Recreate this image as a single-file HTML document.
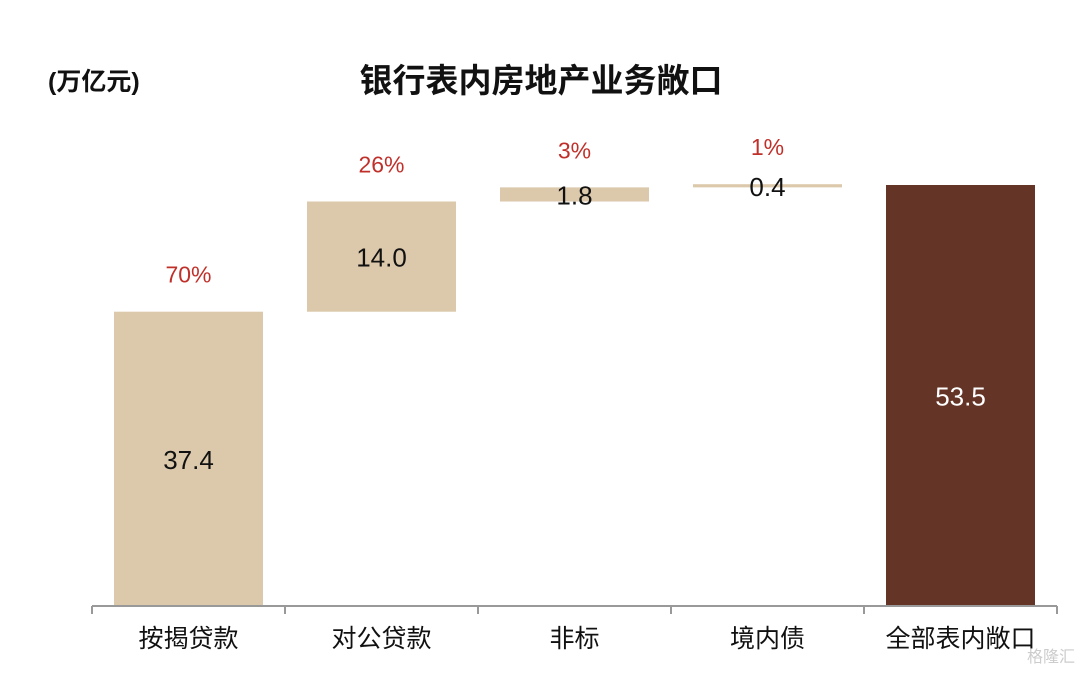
<!DOCTYPE html>
<html><head><meta charset="utf-8"><style>
body{margin:0;background:#fff;width:1080px;height:670px;overflow:hidden}
svg text{font-family:"Liberation Sans","Noto Sans CJK SC",sans-serif}
</style></head><body>
<svg id="chart" width="1080" height="670" viewBox="0 0 1080 670" xmlns="http://www.w3.org/2000/svg">
<text x="48" y="90" font-size="25" font-weight="bold" fill="#111">(万亿元)</text>
<text x="541" y="92" font-size="33" font-weight="bold" fill="#111" text-anchor="middle">银行表内房地产业务敞口</text>
<g id="marks"></g>
<text x="1075" y="662" font-size="16" fill="#ccc" text-anchor="end">格隆汇</text>
</svg>
<script>
const categories=["按揭贷款","对公贷款","非标","境内债","全部表内敞口"];
const values=[37.4,14.0,1.8,0.4,53.5];
const isTotal=[false,false,false,false,true];
const valueLabels=["37.4","14.0","1.8","0.4","53.5"];
const pctLabels=["70%","26%","3%","1%",""];
const NS="http://www.w3.org/2000/svg";
const g=document.getElementById('marks');
const x0=92,x1=1057,baseY=606,pxPer=421/53.5;
const band=(x1-x0)/categories.length;
const y=v=>baseY-v*pxPer;
const xc=i=>x0+band*(i+0.5);
function mk(t,a){const e=document.createElementNS(NS,t);for(const k in a)e.setAttribute(k,a[k]);g.appendChild(e);return e;}
let cum=0;
categories.forEach((c,i)=>{
  const lo=isTotal[i]?0:cum, hi=isTotal[i]?values[i]:cum+values[i];
  if(!isTotal[i])cum=hi;
  const top=y(hi),bot=y(lo);
  const r=mk('rect',{x:xc(i)-74.5,y:top,width:149,height:Math.max(bot-top,2.5),fill:isTotal[i]?'#643426':'#dcc8ab'});
  
  
  const vt=mk('text',{x:xc(i),y:(top+bot)/2+10,'font-size':26,'text-anchor':'middle',fill:isTotal[i]?'#fff':'#111'});
  vt.textContent=valueLabels[i];
  
  
  if(pctLabels[i]){
    const pt=mk('text',{x:xc(i),y:top-29,'font-size':23,'text-anchor':'middle',fill:'#c0302a'});
    pt.textContent=pctLabels[i];
    
    
  }
  const ct=mk('text',{x:xc(i),y:647,'font-size':25,'text-anchor':'middle',fill:'#111'});
  ct.textContent=c;
  
  
});
const ax=mk('line',{x1:x0,y1:baseY,x2:x1,y2:baseY,stroke:'#999','stroke-width':2});


for(let i=0;i<=categories.length;i++){
  const t=mk('line',{x1:x0+band*i,y1:baseY,x2:x0+band*i,y2:baseY+8,stroke:'#999','stroke-width':2});
  
  
}
</script>
</body></html>
